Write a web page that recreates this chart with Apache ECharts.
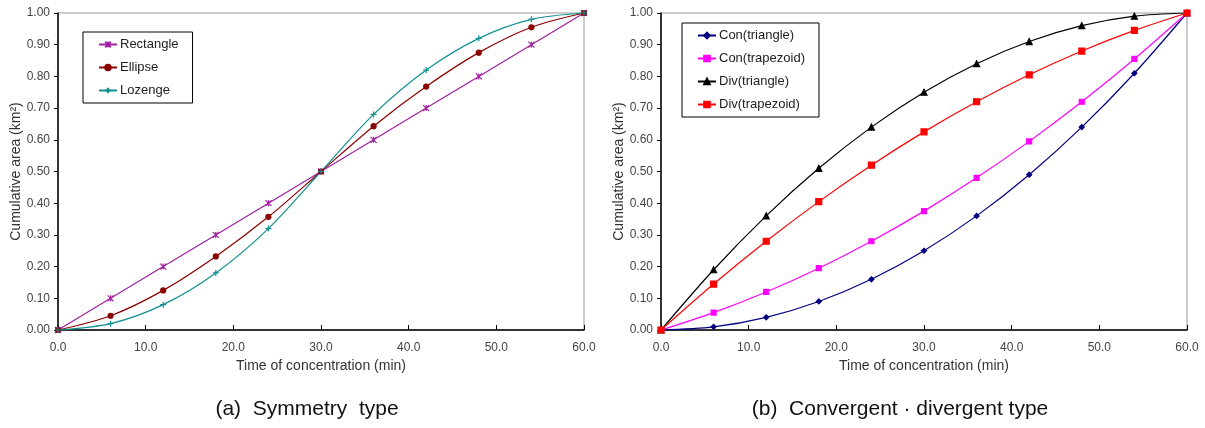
<!DOCTYPE html>
<html>
<head>
<meta charset="utf-8">
<script src="https://cdn.jsdelivr.net/npm/echarts@6/dist/echarts.min.js"></script>
<style>
  html, body { margin: 0; padding: 0; background: #fff; }
  #chart { width: 1205px; height: 428px; }
</style>
</head>
<body>
<div id="chart"></div>
<script>
// time of concentration (min)
const times = [0, 6, 12, 18, 24, 30, 36, 42, 48, 54, 60];

// (a) symmetry type
const rectangle = [0, 0.10, 0.20, 0.30, 0.40, 0.50, 0.60, 0.70, 0.80, 0.90, 1.00];
const ellipse = [0, 0.045, 0.125, 0.232, 0.357, 0.50, 0.643, 0.768, 0.875, 0.955, 1.00];
const lozenge = [0, 0.02, 0.08, 0.18, 0.32, 0.50, 0.68, 0.82, 0.92, 0.98, 1.00];

// (b) convergent / divergent type
const conTriangle = [0, 0.01, 0.04, 0.09, 0.16, 0.25, 0.36, 0.49, 0.64, 0.81, 1.00];
const conTrapezoid = [0, 0.055, 0.12, 0.195, 0.28, 0.375, 0.48, 0.595, 0.72, 0.855, 1.00];
const divTriangle = [0, 0.19, 0.36, 0.51, 0.64, 0.75, 0.84, 0.91, 0.96, 0.99, 1.00];
const divTrapezoid = [0, 0.145, 0.28, 0.405, 0.52, 0.625, 0.72, 0.805, 0.88, 0.945, 1.00];

const FONT = 'Liberation Sans';

// marker shapes
const plusSym = 'path://M4 0 L4 8 M0 4 L8 4';
const starSym = 'path://M0 0 L8 8 M8 0 L0 8 M4 0 L4 8';

const pairs = (ys) => times.map((t, i) => [t, ys[i]]);

const makeX = (idx) => ({
  type: 'value', gridIndex: idx, min: 0, max: 60, interval: 10,
  name: 'Time of concentration (min)', nameLocation: 'middle', nameGap: 28,
  nameTextStyle: { fontFamily: FONT, fontSize: 14, color: '#333' },
  axisLine: { onZero: false, lineStyle: { color: '#000', width: 1.5 } },
  axisTick: { inside: true, length: 5, lineStyle: { color: '#000' } },
  axisLabel: { fontFamily: FONT, fontSize: 12, color: '#444', margin: 12,
    formatter: (v) => v.toFixed(1) },
  splitLine: { show: false }
});

const makeY = (idx) => ({
  type: 'value', gridIndex: idx, min: 0, max: 1, interval: 0.1,
  name: 'Cumulative area (km²)', nameLocation: 'middle', nameGap: 34,
  nameTextStyle: { fontFamily: FONT, fontSize: 14, color: '#333' },
  axisLine: { show: true, lineStyle: { color: '#000', width: 1.5 } },
  axisTick: { show: true, length: 4, lineStyle: { color: '#000' } },
  axisLabel: { fontFamily: FONT, fontSize: 12, color: '#444', margin: 8,
    formatter: (v) => v.toFixed(2) },
  splitLine: { show: false }
});

const line = (name, data, idx, color, symbol, size, smooth) => ({
  name, type: 'line', xAxisIndex: idx, yAxisIndex: idx,
  data: pairs(data), smooth: smooth,
  symbol, symbolSize: size, showSymbol: true,
  lineStyle: { color, width: 1.2 },
  itemStyle: { color, borderColor: color, borderWidth: 1.2 },
  emphasis: { disabled: true }
});

const legendBase = {
  orient: 'vertical', backgroundColor: '#fff',
  borderColor: '#000', borderWidth: 1, borderRadius: 0,
  itemWidth: 18, itemHeight: 7, itemGap: 10,
  textStyle: { fontFamily: FONT, fontSize: 13, color: '#222', padding: [0, 0, 0, -2] }
};

const myChart = echarts.init(document.getElementById('chart'));
const option = {
  animation: false,
  title: [
    { text: '(a)  Symmetry  type', left: 302, top: 394, textAlign: 'center',
      textStyle: { fontFamily: FONT, fontSize: 21, fontWeight: 'normal', color: '#111' } },
    { text: '(b)  Convergent · divergent type', left: 895, top: 394, textAlign: 'center',
      textStyle: { fontFamily: FONT, fontSize: 21, fontWeight: 'normal', color: '#111' } }
  ],
  grid: [
    { left: 58, right: 621, top: 13, bottom: 98, show: true, borderColor: '#999', borderWidth: 1 },
    { left: 661, right: 18, top: 13, bottom: 98, show: true, borderColor: '#999', borderWidth: 1 }
  ],
  legend: [
    Object.assign({}, legendBase, {
      left: 83, top: 32, padding: [6, 14, 6, 15],
      data: ['Rectangle', 'Ellipse', 'Lozenge']
    }),
    Object.assign({}, legendBase, {
      left: 682, top: 23, padding: [6, 14, 6, 15],
      data: ['Con(triangle)', 'Con(trapezoid)', 'Div(triangle)', 'Div(trapezoid)']
    })
  ],
  xAxis: [makeX(0), makeX(1)],
  yAxis: [makeY(0), makeY(1)],
  series: [
    line('Rectangle', rectangle, 0, '#a020a0', starSym, 6, false),
    line('Ellipse', ellipse, 0, '#8b0000', 'circle', 5, 0.3),
    line('Lozenge', lozenge, 0, '#109090', plusSym, 6, 0.3),
    line('Con(triangle)', conTriangle, 1, '#000080', 'diamond', 5, 0.3),
    line('Con(trapezoid)', conTrapezoid, 1, '#ff00ff', 'rect', 5, 0.3),
    line('Div(triangle)', divTriangle, 1, '#000000', 'triangle', 6, 0.3),
    line('Div(trapezoid)', divTrapezoid, 1, '#ff0000', 'rect', 6, 0.3)
  ]
};
option && myChart.setOption(option);
</script>
</body>
</html>
